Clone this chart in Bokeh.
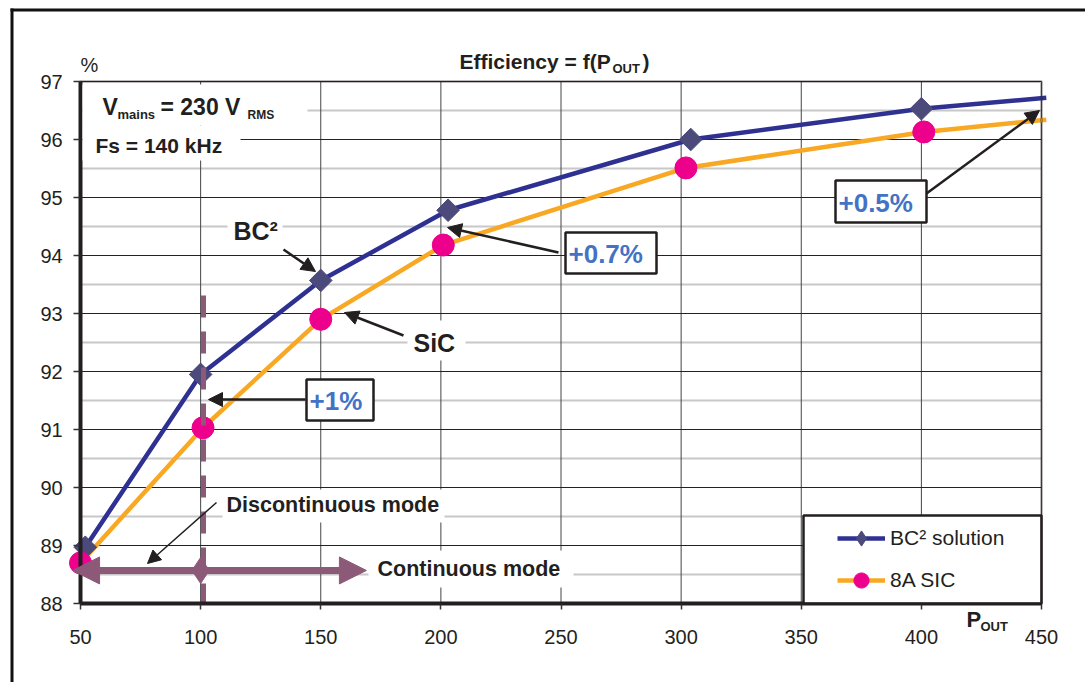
import numpy as np
from bokeh.plotting import figure
from bokeh.models import (FixedTicker, Label, Arrow, NormalHead, BoxAnnotation,
                          Legend, LegendItem, Range1d, LinearAxis)
from bokeh.embed import file_html
from bokeh.resources import INLINE

# ---------------- data ----------------
pout_bc2 = [52, 100, 150, 203, 304, 400, 452]
eff_bc2 = [88.97, 91.95, 93.57, 94.78, 96.00, 96.53, 96.72]
pout_sic = [50, 101, 150, 201, 302, 401, 452]
eff_sic = [88.70, 91.03, 92.90, 94.18, 95.51, 96.13, 96.34]
n_marked = 6  # last point of each series has no marker
series_names = ["BC² solution", "8A SIC"]

x_ticks = [50, 100, 150, 200, 250, 300, 350, 400, 450]
y_ticks = [88, 89, 90, 91, 92, 93, 94, 95, 96, 97]
y_minor = [88.5, 89.5, 90.5, 91.5, 92.5, 93.5, 94.5, 95.5, 96.5]
x_lim = (50, 450)
y_lim = (88, 97)

mode_boundary_x = 101.2      # dashed DCM/CCM boundary
mode_boundary_top = 93.31
ccm_arrow_y = 88.57
ccm_arrow_from = 46.7
ccm_arrow_to = 169.0
ccm_marker_x = 100

# ---------------- colours ----------------
DARK = "#231F20"
BLUE_LINE = "#2E3192"
DIAMOND = "#4B4A7A"
ORANGE = "#F8A823"
MAGENTA = "#EC008C"
MAUVE = "#8C5A78"
ANNOT_BLUE = "#4472C4"
FONT = "Liberation Sans"

# ---------------- layout: the frame fills the whole canvas ----------------
W, H = 1085, 682
FL, FR, FT, FB = 80, 1041, 81, 603          # plot-area edges in canvas pixels
sx_ = (FR - FL) / (x_lim[1] - x_lim[0])
sy_ = (FB - FT) / (y_lim[1] - y_lim[0])


def X(px):
    return x_lim[0] + (px - FL) / sx_


def Y(py):
    return y_lim[0] + (FB - py) / sy_


p = figure(width=W, height=H, min_border=0, min_border_left=0, min_border_right=0,
           min_border_top=0, min_border_bottom=0,
           x_range=Range1d(X(0), X(W)), y_range=Range1d(Y(H), Y(0)),
           x_axis_location=None, y_axis_location=None,
           output_backend="svg", toolbar_location=None)
p.background_fill_color = "white"
p.border_fill_color = "white"
p.outline_line_color = None
p.xgrid.visible = False
p.ygrid.visible = False

# axes fixed at the plot-area edges (labels flipped to the outside by negative standoff)
xax = LinearAxis(ticker=FixedTicker(ticks=x_ticks), fixed_location=y_lim[0], bounds=x_lim)
yax = LinearAxis(ticker=FixedTicker(ticks=y_ticks), fixed_location=x_lim[0], bounds=y_lim)
for ax in (xax, yax):
    ax.axis_line_color = DARK
    ax.axis_line_width = 4
    ax.major_tick_line_color = "#333333"
    ax.major_tick_line_width = 1.5
    ax.major_tick_out = 0
    ax.minor_tick_line_color = None
    ax.major_label_text_font = FONT
    ax.major_label_text_font_size = "20px"
    ax.major_label_text_color = DARK
xax.major_tick_in = 6
yax.major_tick_in = 7
xax.major_label_standoff = -40
yax.major_label_standoff = -40
p.add_layout(xax, "above")
p.add_layout(yax, "right")

# grid lines drawn from the tick arrays
n_x, n_y, n_m = len(x_ticks), len(y_ticks), len(y_minor)
p.segment(x0=[x_lim[0]] * n_m, y0=y_minor, x1=[x_lim[1]] * n_m, y1=y_minor,
          line_color="#C8C8C8", line_width=2)
p.segment(x0=x_ticks, y0=[y_lim[0]] * n_x, x1=x_ticks, y1=[y_lim[1]] * n_x,
          line_color="#444444", line_width=1)
p.segment(x0=[x_lim[0]] * n_y, y0=y_ticks, x1=[x_lim[1]] * n_y, y1=y_ticks,
          line_color="#222222", line_width=1)

# ---------------- series ----------------
l_bc2 = p.line(pout_bc2, eff_bc2, line_color=BLUE_LINE, line_width=4.5)
l_sic = p.line(pout_sic, eff_sic, line_color=ORANGE, line_width=4.5)
m_bc2 = p.scatter(pout_bc2[:n_marked], eff_bc2[:n_marked], marker="square", angle=np.pi / 4,
                  size=16, fill_color=DIAMOND, line_color=DIAMOND)
m_sic = p.scatter(pout_sic[:n_marked], eff_sic[:n_marked], marker="circle", size=22,
                  fill_color=MAGENTA, line_color=MAGENTA)
leg_bc2 = p.scatter(pout_bc2[:n_marked], eff_bc2[:n_marked], marker="diamond", size=20,
                    fill_color=DIAMOND, line_color=DIAMOND, visible=False)

# mode boundary
p.line([mode_boundary_x, mode_boundary_x], [mode_boundary_top, y_lim[0]], line_color=MAUVE,
       line_width=5, line_dash="22 14")
p.scatter([ccm_marker_x], [ccm_arrow_y], marker="diamond", size=26,
          fill_color=MAUVE, line_color=MAUVE)


# ---------------- white backgrounds / boxes ----------------
def white_box(x0, x1, y0, y1, border=False):
    p.add_layout(BoxAnnotation(left=X(x0), right=X(x1), top=Y(y0), bottom=Y(y1),
                               fill_color="white", fill_alpha=1.0,
                               line_color=DARK if border else None,
                               line_alpha=1.0 if border else 0.0, line_width=2.5))


white_box(82, 307, 84, 125)
white_box(82, 240, 125, 160)
white_box(227, 282, 213, 250)
white_box(407, 465, 320, 360)
white_box(222, 444, 489, 522)
white_box(368, 573, 550, 587)
white_box(306, 373, 379, 420, border=True)
white_box(565, 656, 232, 273, border=True)
white_box(835, 926, 180, 222, border=True)
white_box(803, 1041, 515, 603, border=True)  # legend frame

# plot-area border (top / right)
p.add_layout(BoxAnnotation(left=x_lim[0], right=x_lim[1], bottom=y_lim[0], top=y_lim[1],
                           fill_alpha=0, line_color=DARK, line_width=3))


# ---------------- arrows ----------------
def arrow(x0, y0, x1, y1, lw=2.5, hs=14, color=DARK, head=True):
    p.add_layout(Arrow(end=NormalHead(size=hs, fill_color=color, line_color=color) if head else None,
                       x_start=X(x0), y_start=Y(y0), x_end=X(x1), y_end=Y(y1),
                       line_width=lw, line_color=color))


# outer figure frame (top / left edges)
arrow(10, 9.5, W + 20, 9.5, lw=3, color="#111111", head=False)
arrow(11.5, 8, 11.5, H + 20, lw=3, color="#111111", head=False)

arrow(283, 249, 315, 271)           # BC2
arrow(403, 335, 344, 312)           # SiC
arrow(305, 399, 208, 399)           # +1%
arrow(558, 252, 447, 227)           # +0.7%
arrow(926, 193, 1039, 110)          # +0.5%
arrow(216, 502, 147, 563, lw=1.5, hs=13)  # discontinuous mode

p.add_layout(Arrow(start=NormalHead(size=27, fill_color=MAUVE, line_color=MAUVE),
                   end=NormalHead(size=27, fill_color=MAUVE, line_color=MAUVE),
                   x_start=ccm_arrow_from, y_start=ccm_arrow_y,
                   x_end=ccm_arrow_to, y_end=ccm_arrow_y,
                   line_width=7, line_color=MAUVE))


# ---------------- texts ----------------
def txt(s, px, py, size, bold=True, color=DARK):
    p.add_layout(Label(x=X(px), y=Y(py), y_offset=0.38 * size,
                       text=s, text_font=FONT, text_font_size=f"{size}px",
                       text_font_style="bold" if bold else "normal",
                       text_color=color, text_align="left", text_baseline="alphabetic"))


txt("Efficiency = f(P", 459, 69, 21)
txt("OUT", 612, 73, 13)
txt(")", 642, 69, 21)
txt("%", 80, 72, 20, bold=False)
txt("V", 102, 115, 23)
txt("mains", 117, 119, 13)
txt("= 230 V", 160, 115, 23)
txt("RMS", 247, 119, 12)
txt("Fs = 140 kHz", 95, 153, 21)
txt("BC²", 233, 240, 25)
txt("SiC", 413, 352, 25)
txt("+1%", 309, 410, 26, color=ANNOT_BLUE)
txt("+0.7%", 568, 263, 26, color=ANNOT_BLUE)
txt("+0.5%", 838, 212, 26, color=ANNOT_BLUE)
txt("Discontinuous mode", 226, 513, 21.5)
txt("Continuous mode", 377, 577, 21.5)
txt("P", 966, 627, 22)
txt("OUT", 980, 631, 13)

# ---------------- legend ----------------
legend = Legend(items=[LegendItem(label=series_names[0], renderers=[l_bc2, leg_bc2]),
                       LegendItem(label=series_names[1], renderers=[l_sic, m_sic])],
                location=(833, H - FB), margin=0, padding=4, spacing=4,
                glyph_width=48, glyph_height=38, label_height=38, label_standoff=5,
                label_text_font=FONT, label_text_font_size="21px", label_text_color=DARK,
                background_fill_alpha=0, border_line_alpha=0)
p.add_layout(legend)

open("out.html", "w").write(file_html(p, INLINE))
